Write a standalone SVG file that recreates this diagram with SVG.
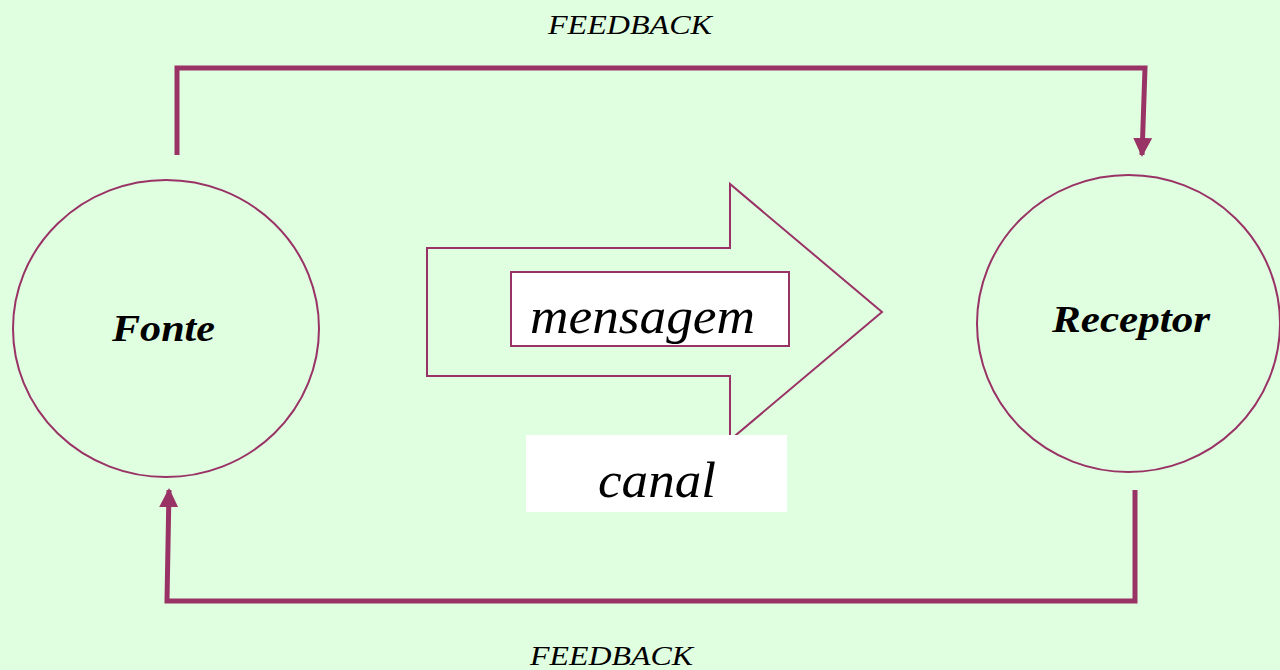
<svg xmlns="http://www.w3.org/2000/svg" width="1280" height="670" viewBox="0 0 1280 670">
  <defs>
    <style>
      .node { fill: none; stroke: #993366; stroke-width: 2; }
      .fb { fill: none; stroke: #993366; stroke-width: 5; stroke-linejoin: miter; }
      .lbl { font-family: "Liberation Serif", "Times New Roman", serif; font-style: italic; fill: #000; }
      .bold { font-weight: bold; }
    </style>
    <marker id="head" viewBox="0 0 10 10" refX="9" refY="5" markerWidth="3.8" markerHeight="3.8" orient="auto" markerUnits="strokeWidth">
      <path d="M0,0 L10,5 L0,10 Z" fill="#993366"/>
    </marker>
  </defs>
  <rect width="1280" height="670" fill="#E0FFE0"/>

  <g id="connectors">
    <path class="fb" d="M177,155 L177,68 L1145,68 L1142,155" marker-end="url(#head)"/>
    <path class="fb" d="M1135,490 L1135,601 L167,601 L169,490" marker-end="url(#head)"/>
  </g>

  <g id="fonte">
    <ellipse class="node" cx="166" cy="328.5" rx="153" ry="148.5"/>
    <text class="lbl bold" x="112" y="341" font-size="37" textLength="103" lengthAdjust="spacingAndGlyphs">Fonte</text>
  </g>

  <g id="receptor">
    <ellipse class="node" cx="1128.5" cy="323.5" rx="151.5" ry="148.5"/>
    <text class="lbl bold" x="1052" y="332" font-size="37" textLength="158" lengthAdjust="spacingAndGlyphs">Receptor</text>
  </g>

  <g id="canal">
    <polygon class="node" points="427,248 730,248 730,184 882,312 730,440 730,376 427,376"/>
    <rect x="511" y="272" width="278" height="74" fill="#fff" stroke="#993366" stroke-width="2"/>
    <text class="lbl" x="530" y="333" font-size="50" textLength="225" lengthAdjust="spacingAndGlyphs">mensagem</text>
    <rect x="526" y="435" width="261" height="77" fill="#fff"/>
    <text class="lbl" x="598" y="497" font-size="51" textLength="118" lengthAdjust="spacingAndGlyphs">canal</text>
  </g>

  <g id="feedback-labels">
    <text class="lbl" x="548" y="34" font-size="28" textLength="164" lengthAdjust="spacingAndGlyphs">FEEDBACK</text>
    <text class="lbl" x="530" y="665" font-size="28" textLength="163" lengthAdjust="spacingAndGlyphs">FEEDBACK</text>
  </g>
</svg>
